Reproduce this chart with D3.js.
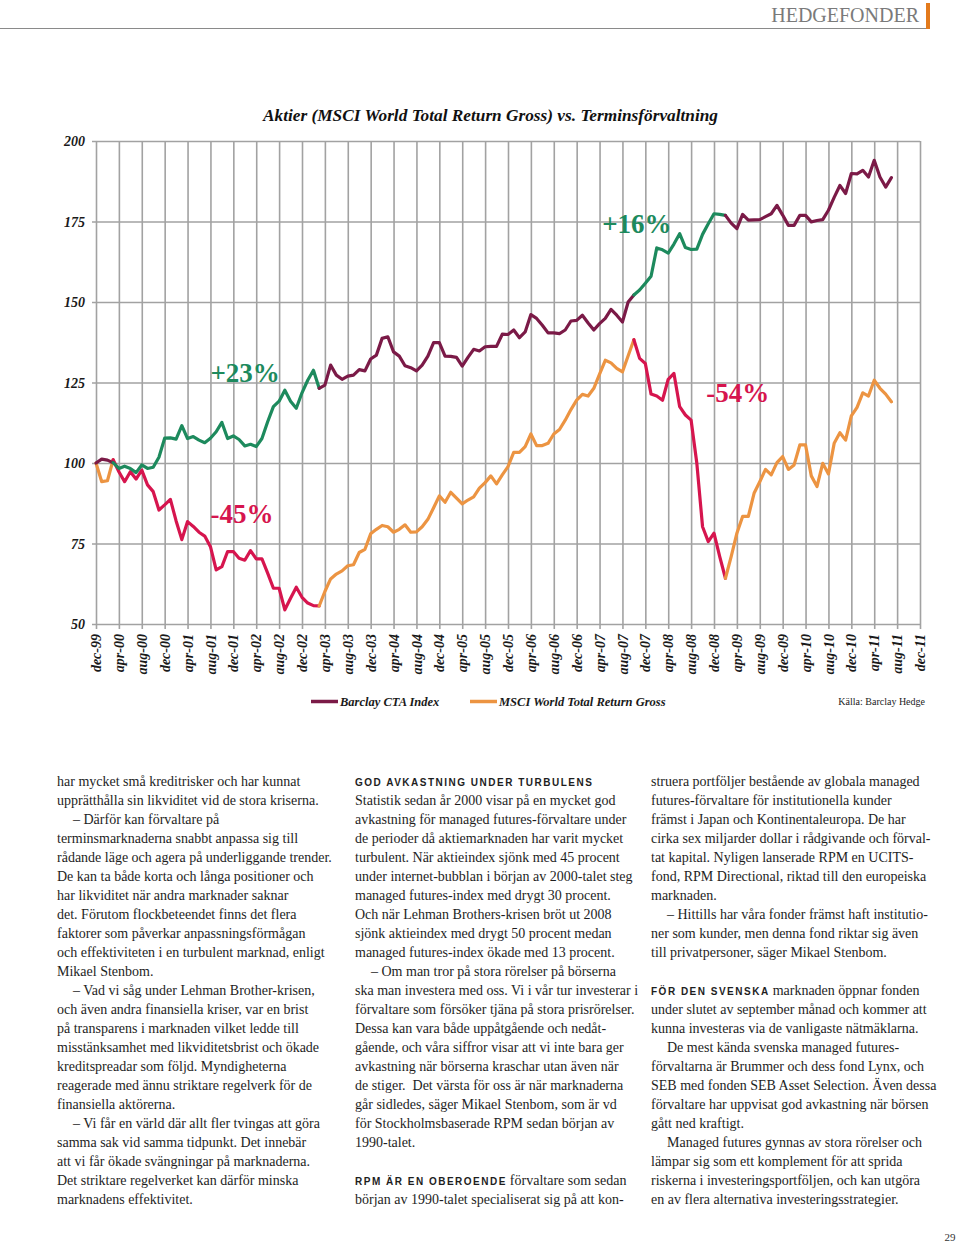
<!DOCTYPE html>
<html><head><meta charset="utf-8">
<script src="https://cdn.jsdelivr.net/npm/d3@7"></script>
<style>
body{margin:0;background:#fff;}
svg{display:block;}
</style></head><body>
<svg id="page" width="960" height="1243"></svg>
<script>
// ---------- DATA ----------
const startMonth = "1999-12";
const endMonth = "2011-12";
// Barclay CTA Index (rebased 100 = dec-99), monthly
const ctaValues = [
100,101.2,100.9,100.1,98.3,99,98.3,97,99.4,98.3,98.7,101.8,
107.7,107.8,107.4,111.6,107.6,108.2,107.1,106.3,107.7,109.7,112.6,107.6,
108.4,107.3,105.3,105.8,105.1,107.6,112.8,117.5,119.2,122.6,119.2,117,
121.8,125.7,128.8,123.2,124.2,130.4,127.3,126,127,127.3,129,128.6,
132.3,133.5,138.7,139.2,134.5,133.2,130.2,129.6,128.6,130.4,133.2,137.4,
137.4,133.2,133.1,132.8,130.1,132.8,135.3,134.8,136.1,136.2,136.2,140,
139.9,141.3,138.9,140.7,146.1,144.9,142.8,140.4,140.4,140.2,141.3,144.1,
144.3,145.9,143.5,141.3,143.3,144.9,147.7,145.9,143.8,150,152.2,153.7,
155.8,158,166.8,166.2,165.2,168,171.2,166.9,166.3,166.4,171,174.3,
177.4,177.2,176.9,174.5,172.8,177.2,175.4,175.5,175.6,176.5,177.4,180,
177,173.8,173.8,176.9,176.9,174.9,175.3,175.6,178.5,182.5,186.2,183.7,
189.9,189.8,190.9,188.8,194,188.8,185.7,188.6
];
// MSCI World Total Return Gross (rebased 100 = dec-99), monthly
const msciValues = [
100,94.2,94.5,101,97.3,94.2,97.3,95,97.8,93.2,91.1,85.4,
87,88.7,82,76.2,81.8,80.3,78.5,77.3,74,66.8,67.8,72.5,
72.5,70.4,69.8,72.8,70.2,70.2,65.8,61.1,61.1,54.4,58,61.4,
58.3,56.5,55.7,55.6,60.1,64,65.5,66.5,68.1,68.4,72.2,73.2,
78,79.4,80.6,80.2,78.5,79.4,80.8,78.5,78.6,80.2,82.5,86.1,
89.8,87.8,90.9,89.1,87.3,88.5,89.5,92.2,93.9,96,93.5,96.3,
98.9,103.3,103.3,105.1,109,105.4,105.4,106.1,109,110.4,113.3,116.6,
119.5,121.3,120.8,123.2,127.6,131.9,131.1,129.4,128.3,133.3,138.3,132.5,
130.9,121.4,120.8,119.5,126,127.8,117.5,114.9,113.3,99.9,80.2,75.6,
78.2,70.9,64.2,70.9,78.2,83.4,83.4,90.6,94.2,98,96.3,100.1,
102,98,99.4,105.6,105.6,96,92.7,99.9,96.6,106.1,109.4,107.1,
114.6,117.3,121.8,120.8,125.7,123.2,121.4,119
];
// Periods of stock-market turbulence (coloured segments)
const highlightStart = ["2000-03","2007-10"];
const highlightEnd   = ["2003-03","2009-02"];
const yTickValues = [50,75,100,125,150,175,200];
const xTickLabels = ["dec-99","apr-00","aug-00","dec-00","apr-01","aug-01","dec-01","apr-02","aug-02","dec-02",
"apr-03","aug-03","dec-03","apr-04","aug-04","dec-04","apr-05","aug-05","dec-05","apr-06","aug-06","dec-06",
"apr-07","aug-07","dec-07","apr-08","aug-08","dec-08","apr-09","aug-09","dec-09","apr-10","aug-10","dec-10",
"apr-11","aug-11","dec-11"];
const annotationLabels = ["+23%","-45%","+16%","-54%"];
const annotationDates  = ["2001-08","2001-08","2007-04-15","2008-10-20"];
const annotationValues = [125.1,81.4,171.3,118.8];
const annotationKinds  = ["up","down","up","down"];
const seriesNames = ["Barclay CTA Index","MSCI World Total Return Gross"];

// ---------- COLOURS ----------
const C = {maroon:"#7b1a47", green:"#1d8a5d", red:"#d6154e", orange:"#ec9442", grid:"#a2a2a2"};

// ---------- HELPERS ----------
const parseM = s => {
  const p = s.split("-").map(Number);
  const base = startMonth.split("-").map(Number);
  return (p[0]-base[0])*12 + (p[1]-base[1]) + (p[2] ? (p[2]-1)/30 : 0);
};

const svg = d3.select("#page");

// ---------- HEADER ----------
svg.append("line").attr("x1",0).attr("x2",927).attr("y1",28.5).attr("y2",28.5)
  .attr("stroke","#8a8a8a").attr("stroke-width",1);
svg.append("rect").attr("x",926).attr("y",3).attr("width",4).attr("height",26).attr("fill","#e37a1c");
svg.append("text").attr("x",919).attr("y",22).attr("text-anchor","end")
  .attr("font-family","'Liberation Serif', serif").attr("font-size",20).attr("fill","#7a7a7a")
  .text("HEDGEFONDER");

// ---------- CHART ----------
const x = d3.scaleLinear().domain([0, parseM(endMonth)]).range([96, 920]);
const y = d3.scaleLinear().domain([50, 200]).range([624, 141]);
const serifBI = "'Liberation Serif', 'Times New Roman', serif";

const g = svg.append("g");

// title
g.append("text").attr("x",490.5).attr("y",121).attr("text-anchor","middle")
  .attr("font-family",serifBI).attr("font-weight","bold").attr("font-style","italic")
  .attr("font-size",17.5).attr("fill","#111")
  .attr("textLength",455).attr("lengthAdjust","spacingAndGlyphs")
  .text("Aktier (MSCI World Total Return Gross) vs. Terminsförvaltning");

// x axis (vertical grid + rotated labels)
const xTickIdx = xTickLabels.map((d,i)=>i*4);
const xAxis = d3.axisBottom(x).tickValues(xTickIdx)
  .tickFormat((d,i)=>xTickLabels[i]).tickSize(-(y(50)-y(200))).tickSizeOuter(0);
const gx = g.append("g").attr("transform",`translate(0,${y(50)})`).call(xAxis);
gx.select(".domain").remove();
gx.selectAll(".tick line").attr("stroke",C.grid).attr("stroke-width",1.6).attr("y2",-(y(50)-y(200))).attr("y1",5);
gx.selectAll(".tick text")
  .attr("font-family",serifBI).attr("font-weight","bold").attr("font-style","italic")
  .attr("font-size",14).attr("fill","#1a1a1a")
  .attr("transform","rotate(-90)").attr("text-anchor","end")
  .attr("x",-10).attr("y",0).attr("dy","0.33em");

// y axis (horizontal grid + labels)
const yAxis = d3.axisLeft(y).tickValues(yTickValues).tickFormat(d3.format("d"))
  .tickSize(-(x(parseM(endMonth))-x(0))).tickSizeOuter(0);
const gy = g.append("g").attr("transform",`translate(${x(0)},0)`).call(yAxis);
gy.select(".domain").remove();
gy.selectAll(".tick line").attr("stroke",C.grid).attr("stroke-width",1.6).attr("x1",-4);
gy.selectAll(".tick text")
  .attr("font-family",serifBI).attr("font-weight","bold").attr("font-style","italic")
  .attr("font-size",14).attr("fill","#1a1a1a").attr("x",-11).attr("dy","0.33em");

// segmented series
const hl = highlightStart.map((s,i)=>[parseM(s), parseM(highlightEnd[i])]);
function segments(values){
  const cuts = [0];
  hl.forEach(p=>{cuts.push(p[0]); cuts.push(p[1]);});
  cuts.push(values.length-1);
  const segs = [];
  for(let k=0;k<cuts.length-1;k++){
    const a=cuts[k], b=cuts[k+1];
    segs.push({hi: k%2===1, pts: d3.range(a,b+1).map(i=>[i,values[i]])});
  }
  return segs;
}
const line = d3.line().x(d=>x(d[0])).y(d=>y(d[1])).curve(d3.curveLinear);
function drawSeries(values, normal, high){
  g.append("g").selectAll("path").data(segments(values)).join("path")
    .attr("d",d=>line(d.pts)).attr("fill","none")
    .attr("stroke",d=>d.hi?high:normal).attr("stroke-width",3.2)
    .attr("stroke-linejoin","round").attr("stroke-linecap","round");
}
drawSeries(msciValues, C.orange, C.red);
drawSeries(ctaValues, C.maroon, C.green);

// annotations
g.append("g").selectAll("text").data(annotationLabels).join("text")
  .attr("x",(d,i)=>x(parseM(annotationDates[i])))
  .attr("y",(d,i)=>y(annotationValues[i]))
  .attr("font-family","'Liberation Serif', serif").attr("font-weight","bold")
  .attr("font-size",27)
  .attr("fill",(d,i)=>annotationKinds[i]==="up"?C.green:C.red)
  .text(d=>d);

// legend
const leg = g.append("g");
const legX = [311, 470];
const legColors = [C.maroon, C.orange];
seriesNames.forEach((n,i)=>{
  leg.append("line").attr("x1",legX[i]).attr("x2",legX[i]+27).attr("y1",701.5).attr("y2",701.5)
    .attr("stroke",legColors[i]).attr("stroke-width",3.5);
  leg.append("text").attr("x",legX[i]+29).attr("y",706)
    .attr("font-family",serifBI).attr("font-weight","bold").attr("font-style","italic")
    .attr("font-size",12.5).attr("fill","#1a1a1a").text(n);
});
g.append("text").attr("x",925).attr("y",704.5).attr("text-anchor","end")
  .attr("font-family","'Liberation Serif', serif").attr("font-size",10).attr("fill","#222")
  .text("Källa: Barclay Hedge");

// ---------- BODY TEXT ----------
const col1 = [
"har mycket små kreditrisker och har kunnat",
"upprätthålla sin likviditet vid de stora kriserna.",
"\t– Därför kan förvaltare på",
"terminsmarknaderna snabbt anpassa sig till",
"rådande läge och agera på underliggande trender.",
"De kan ta både korta och långa positioner och",
"har likviditet när andra marknader saknar",
"det. Förutom flockbeteendet finns det flera",
"faktorer som påverkar anpassningsförmågan",
"och effektiviteten i en turbulent marknad, enligt",
"Mikael Stenbom.",
"\t– Vad vi såg under Lehman Brother-krisen,",
"och även andra finansiella kriser, var en brist",
"på transparens i marknaden vilket ledde till",
"misstänksamhet med likviditetsbrist och ökade",
"kreditspreadar som följd. Myndigheterna",
"reagerade med ännu striktare regelverk för de",
"finansiella aktörerna.",
"\t– Vi får en värld där allt fler tvingas att göra",
"samma sak vid samma tidpunkt. Det innebär",
"att vi får ökade svängningar på marknaderna.",
"Det striktare regelverket kan därför minska",
"marknadens effektivitet."
];
const col2 = [
"#GOD AVKASTNING UNDER TURBULENS|",
"Statistik sedan år 2000 visar på en mycket god",
"avkastning för managed futures-förvaltare under",
"de perioder då aktiemarknaden har varit mycket",
"turbulent. När aktieindex sjönk med 45 procent",
"under internet-bubblan i början av 2000-talet steg",
"managed futures-index med drygt 30 procent.",
"Och när Lehman Brothers-krisen bröt ut 2008",
"sjönk aktieindex med drygt 50 procent medan",
"managed futures-index ökade med 13 procent.",
"\t– Om man tror på stora rörelser på börserna",
"ska man investera med oss. Vi i vår tur investerar i",
"förvaltare som försöker tjäna på stora prisrörelser.",
"Dessa kan vara både uppåtgående och nedåt-",
"gående, och våra siffror visar att vi inte bara ger",
"avkastning när börserna kraschar utan även när",
"de stiger.  Det värsta för oss är när marknaderna",
"går sidledes, säger Mikael Stenbom, som är vd",
"för Stockholmsbaserade RPM sedan början av",
"1990-talet.",
"",
"#RPM ÄR EN OBEROENDE|förvaltare som sedan",
"början av 1990-talet specialiserat sig på att kon-"
];
const col3 = [
"struera portföljer bestående av globala managed",
"futures-förvaltare för institutionella kunder",
"främst i Japan och Kontinentaleuropa. De har",
"cirka sex miljarder dollar i rådgivande och förval-",
"tat kapital. Nyligen lanserade RPM en UCITS-",
"fond, RPM Directional, riktad till den europeiska",
"marknaden.",
"\t– Hittills har våra fonder främst haft institutio-",
"ner som kunder, men denna fond riktar sig även",
"till privatpersoner, säger Mikael Stenbom.",
"",
"#FÖR DEN SVENSKA|marknaden öppnar fonden",
"under slutet av september månad och kommer att",
"kunna investeras via de vanligaste nätmäklarna.",
"\tDe mest kända svenska managed futures-",
"förvaltarna är Brummer och dess fond Lynx, och",
"SEB med fonden SEB Asset Selection. Även dessa",
"förvaltare har uppvisat god avkastning när börsen",
"gått ned kraftigt.",
"\tManaged futures gynnas av stora rörelser och",
"lämpar sig som ett komplement för att sprida",
"riskerna i investeringsportföljen, och kan utgöra",
"en av flera alternativa investeringsstrategier."
];
function drawColumn(lines, x0){
  lines.forEach((ln,i)=>{
    if(!ln) return;
    const yy = 786 + i*19;
    const t = svg.append("text").attr("y",yy)
      .attr("font-family","'Liberation Serif', 'Times New Roman', serif")
      .attr("font-size",14).attr("fill","#1e1e1e").style("white-space","pre");
    if(ln[0]==="#"){
      const parts = ln.slice(1).split("|");
      t.attr("x",x0);
      t.append("tspan").attr("font-family","'Liberation Sans', Arial, sans-serif")
        .attr("font-weight","bold").attr("font-size",10).attr("letter-spacing",1.5)
        .text(parts[0]);
      if(parts[1]) t.append("tspan").attr("dx",3).text(parts[1]);
    } else if(ln[0]==="\t"){
      t.attr("x",x0+16).text(ln.slice(1));
    } else {
      t.attr("x",x0).text(ln);
    }
  });
}
drawColumn(col1, 57);
drawColumn(col2, 355);
drawColumn(col3, 651);

svg.append("text").attr("x",950).attr("y",1241).attr("text-anchor","middle")
  .attr("font-family","'Liberation Serif', serif").attr("font-size",11).attr("fill","#333").text("29");
</script>
</body></html>
